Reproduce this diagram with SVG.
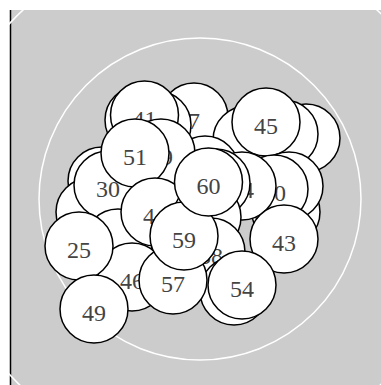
<svg xmlns="http://www.w3.org/2000/svg" width="381" height="385" viewBox="0 0 381 385">
<style>
.n circle{fill:#fff;stroke:#000;stroke-width:1.5}
.n text{font-family:"Liberation Serif",serif;font-size:24px;fill:#444;text-anchor:middle}
.ring{fill:none;stroke:#fff;stroke-width:1.5}
</style>
<rect x="0" y="0" width="381" height="385" fill="#fff"/>
<rect x="11" y="10" width="370" height="375" fill="#ccc"/>
<line x1="10.5" y1="10" x2="10.5" y2="385" stroke="#000" stroke-width="1.5"/>
<circle class="ring" cx="200" cy="199" r="259"/>
<circle class="ring" cx="200" cy="199" r="161"/>
<g id="connectors"></g>
<g id="nodes">
<g id="n7" class="n"><circle cx="194" cy="117" r="34"/><text x="194" y="129">7</text></g>
<g id="nD" class="n"><circle cx="157" cy="125" r="34"/></g>
<g id="nB" class="n"><circle cx="139" cy="120" r="34"/></g>
<g id="n41" class="n"><circle cx="144.5" cy="115" r="34"/><text x="144.5" y="127">41</text></g>
<g id="nK2" class="n"><circle cx="306" cy="138" r="34"/></g>
<g id="nK1" class="n"><circle cx="284" cy="134" r="34"/></g>
<g id="nL" class="n"><circle cx="247" cy="140" r="34"/></g>
<g id="n45" class="n"><circle cx="266" cy="122" r="34"/><text x="266" y="134">45</text></g>
<g id="nR3" class="n"><circle cx="286" cy="212" r="34"/></g>
<g id="nR2" class="n"><circle cx="289" cy="186" r="34"/></g>
<g id="n40" class="n"><circle cx="274" cy="189" r="34"/><text x="274" y="201">40</text></g>
<g id="nP" class="n"><circle cx="205" cy="170" r="34"/></g>
<g id="n44" class="n"><circle cx="242" cy="186" r="34"/><text x="242" y="198">44</text></g>
<g id="nG" class="n"><circle cx="102" cy="181" r="34"/></g>
<g id="nH" class="n"><circle cx="90" cy="212" r="34"/></g>
<g id="n30" class="n"><circle cx="108" cy="185" r="34"/><text x="108" y="197">30</text></g>
<g id="n39" class="n"><circle cx="161" cy="153" r="34"/><text x="161" y="165">39</text></g>
<g id="n51" class="n"><circle cx="135" cy="153" r="34"/><text x="135" y="165">51</text></g>
<g id="nJ" class="n"><circle cx="118" cy="243" r="34"/></g>
<g id="n4" class="n"><circle cx="155" cy="212" r="34"/><text x="149" y="224">4</text></g>
<g id="nO" class="n"><circle cx="216" cy="183" r="34"/></g>
<g id="n35" class="n"><circle cx="207" cy="217" r="34"/><text x="207" y="229">35</text></g>
<g id="n38" class="n"><circle cx="211" cy="252" r="34"/><text x="211" y="264">38</text></g>
<g id="nS" class="n"><circle cx="234" cy="291" r="34"/></g>
<g id="n43" class="n"><circle cx="284" cy="239" r="34"/><text x="284" y="251">43</text></g>
<g id="n54" class="n"><circle cx="242" cy="285" r="34"/><text x="242" y="297">54</text></g>
<g id="n46" class="n"><circle cx="132" cy="277" r="34"/><text x="132" y="289">46</text></g>
<g id="n25" class="n"><circle cx="79" cy="246" r="34"/><text x="79" y="258">25</text></g>
<g id="n49" class="n"><circle cx="94" cy="309" r="34"/><text x="94" y="321">49</text></g>
<g id="n57" class="n"><circle cx="173" cy="280" r="34"/><text x="173" y="292">57</text></g>
<g id="n59" class="n"><circle cx="184" cy="236" r="34"/><text x="184" y="248">59</text></g>
<g id="n60" class="n"><circle cx="208.5" cy="182" r="34"/><text x="208.5" y="194">60</text></g>
</g>
</svg>
